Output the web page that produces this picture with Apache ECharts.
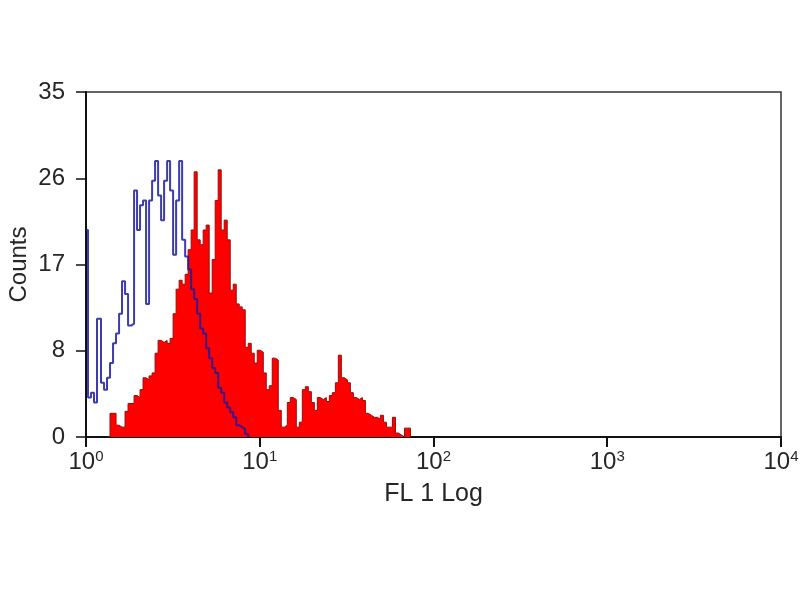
<!DOCTYPE html>
<html>
<head>
<meta charset="utf-8">
<script src="https://cdn.jsdelivr.net/npm/echarts@6/dist/echarts.min.js"></script>
<style>html,body{margin:0;padding:0;background:#fff}#c{width:800px;height:600px}</style>
</head>
<body>
<div id="c"></div>
<script>
// FL1 channel values (log scale) and counts
var redX = [1.321,1.375,1.431,1.489,1.550,1.612,1.678,1.746,1.817,1.891,1.967,2.047,2.130,2.217,2.307,2.401,2.498,2.600,2.705,2.815,2.930,3.048,3.172,3.301,3.436,3.575,3.721,3.872,4.029,4.193,4.363,4.541,4.725,4.916,5.116,5.324,5.540,5.765,5.999,6.243,6.496,6.761,7.035,7.321,7.617,7.926,8.248,8.583,8.933,9.297,9.674,10.07,10.48,10.90,11.34,11.80,12.28,12.78,13.30,13.84,14.41,14.99,15.60,16.23,16.89,17.58,18.29,19.03,19.81,20.61,21.45,22.32,23.23,24.17,25.15,26.17,27.24,28.34,29.49,30.69,31.94,33.23,34.58,35.99,37.45,38.97,40.56,42.20,43.92,45.71,47.56,49.49,51.50,53.59,55.77,58.03,60.39,62.84,65.40,68.06,70.81,73.69];
var redCounts = [0,2.4,2.4,1.2,1.0,1.0,2.6,3.4,3.4,4.2,4.0,4.8,6.0,5.8,6.2,6.5,8.5,9.8,9.6,9.8,9.5,10,12.5,15.0,15.9,15.5,16.5,19,21,26.9,20,19.5,21,21.5,14.6,18,24,27.1,21,22,20,14.9,15.5,13.5,13.2,12.9,9.1,9.5,8.5,7.5,8.8,8.6,6.5,4.8,5.2,8.0,7.8,2.7,1.0,1.2,3.5,4.0,3.8,1.0,1.5,4.8,5.1,4.6,3.5,2.7,4.0,3.8,4.0,3.6,4.2,4.5,5.5,8.3,6.0,5.8,5.5,4.5,4.0,3.8,4.0,3.7,2.4,2.2,2.0,2.0,1.8,2.2,1.5,1.0,1.0,2.0,0.4,0.2,0,0.9,0.9,0];
var blueX = [1.000,1.027,1.069,1.112,1.157,1.220,1.270,1.321,1.375,1.431,1.489,1.550,1.612,1.678,1.746,1.817,1.891,1.967,2.047,2.130,2.217,2.307,2.401,2.498,2.600,2.705,2.815,2.930,3.048,3.172,3.301,3.436,3.575,3.721,3.872,4.029,4.193,4.363,4.541,4.725,4.916,5.116,5.324,5.540,5.765,5.999,6.243,6.496,6.761,7.035,7.321,7.617,7.926,8.248,8.583];
var blueCounts = [21,4,4.5,3.5,12,5.5,4.8,6.0,7.5,9.5,10.5,12.5,15.8,14.5,11.3,11.5,25,21,23.5,24,13.5,24,26,28,24.5,22,26,28,25,18.5,24,28,20,18.3,17,15,14,12.5,11,10.5,9,8,7,6.5,5,4.5,3.5,3,2.5,2,1.2,1,0.8,0.3,0];
var xTickExp = ['0','1','2','3','4'];
var yMax = 35;

function pairs(xs, ys) {
  var out = [];
  for (var i = 0; i < Math.min(xs.length, ys.length); i++) out.push([xs[i], ys[i]]);
  return out;
}

var chart = echarts.init(document.getElementById('c'), null, {renderer: 'canvas'});
var txt = '#262626';
chart.setOption({
  animation: false,
  backgroundColor: '#fff',
  grid: {left: 86, right: 19, top: 92, bottom: 163, containLabel: false, outerBoundsMode: 'none',
         show: true, borderColor: '#333', borderWidth: 1.5, backgroundColor: 'transparent'},
  xAxis: {
    type: 'log', logBase: 10, min: 1, max: 10000,
    name: 'FL 1 Log', nameLocation: 'middle', nameGap: 45, nameMoveOverlap: false,
    nameTextStyle: {fontFamily: 'Liberation Sans', fontSize: 25, color: txt},
    axisLine: {show: true, lineStyle: {color: '#111', width: 2}},
    axisTick: {show: true, inside: false, length: 10, lineStyle: {color: '#111', width: 2}},
    minorTick: {show: false},
    splitLine: {show: false},
    axisLabel: {
      margin: 12,
      formatter: function (v) {
        var e = Math.round(Math.log10(v));
        return '{b|10}{s|' + xTickExp[e] + '}';
      },
      rich: {
        b: {fontFamily: 'Liberation Sans', fontSize: 24, color: txt, verticalAlign: 'bottom'},
        s: {fontFamily: 'Liberation Sans', fontSize: 15, color: txt, verticalAlign: 'top', padding: [0, 0, 10, 0]}
      }
    }
  },
  yAxis: {
    type: 'value', min: 0, max: yMax, interval: yMax / 4,
    name: 'Counts', nameLocation: 'middle', nameGap: 55, nameRotate: 90, nameMoveOverlap: false,
    nameTextStyle: {fontFamily: 'Liberation Sans', fontSize: 24, color: txt},
    axisLine: {show: true, lineStyle: {color: '#111', width: 2}},
    axisTick: {show: true, inside: false, length: 10, lineStyle: {color: '#111', width: 1.5}},
    splitLine: {show: false},
    axisLabel: {
      margin: 21, fontFamily: 'Liberation Sans', fontSize: 24, color: txt,
      formatter: function (v) { return String(Math.floor(v)); }
    }
  },
  series: [
    {
      type: 'line', name: 'stained', step: 'end', symbol: 'none', z: 2,
      data: pairs(redX, redCounts),
      lineStyle: {color: '#9a0a0a', width: 1},
      areaStyle: {color: '#ff0000', opacity: 1}
    },
    {
      type: 'line', name: 'control', step: 'end', symbol: 'none', z: 3,
      data: pairs(blueX, blueCounts),
      lineStyle: {color: '#1a1aa0', width: 2, opacity: 0.85}
    }
  ]
});
</script>
</body>
</html>
